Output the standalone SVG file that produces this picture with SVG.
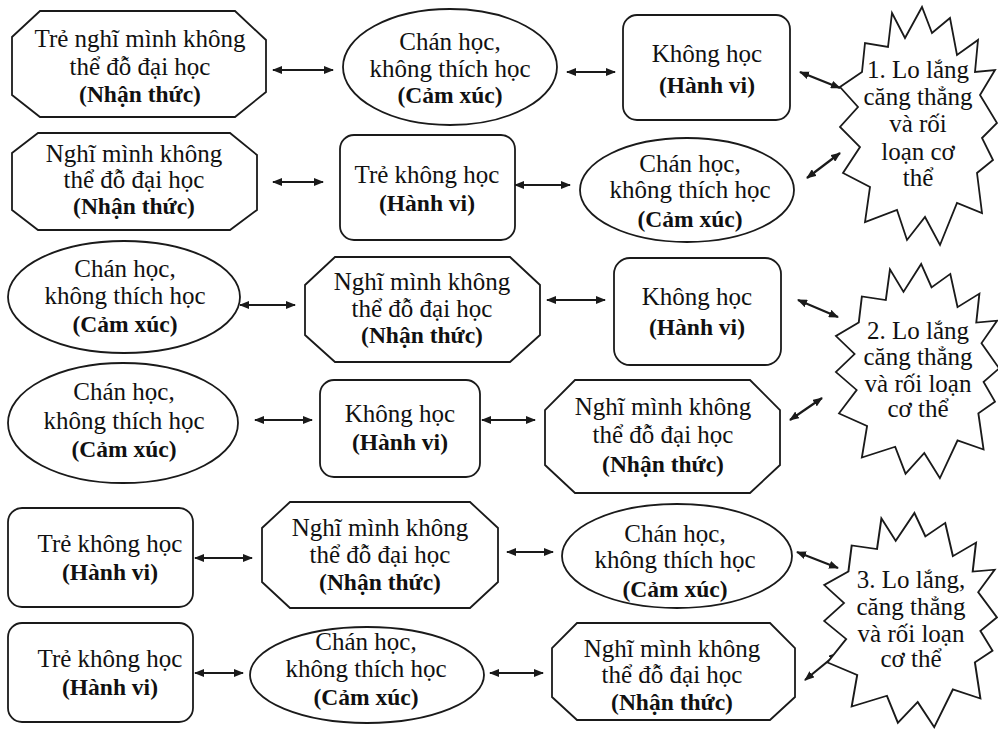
<svg xmlns="http://www.w3.org/2000/svg" width="998" height="738" viewBox="0 0 998 738">
<style>
.shape{fill:#ffffff;stroke:#1a1a1a;stroke-width:1.8}
.star{fill:#ffffff;stroke:#1a1a1a;stroke-width:1.8}
text{font-family:"Liberation Serif","DejaVu Serif",serif;font-size:25px;fill:#111;text-anchor:middle}
.b{font-weight:bold;font-size:23.5px}
.conn line{stroke:#1a1a1a;stroke-width:2.2;marker-start:url(#ah);marker-end:url(#ah)}
</style>
<defs>
<marker id="ah" markerUnits="userSpaceOnUse" markerWidth="10" markerHeight="8" refX="9" refY="4" orient="auto-start-reverse">
<path d="M0,0 L10,4 L0,8 z" fill="#1a1a1a"/>
</marker>
<path id="starShape" d="M-26,-114 L-13,-89 L4,-120 L14,-94 L32,-109 L39,-72 L60,-87 L57,-55 L77,-57 L62,-32 L79,-4 L64,11 L75,33 L59,46 L64,86 L39,76 L22,118 L7,90 L-11,113 L-21,83 L-53,95 L-48,60 L-75,46 L-58,20 L-78,0 L-60,-20 L-78,-40 L-56,-55 L-53,-84 L-30,-80 Z"/>
</defs>
<rect x="0" y="0" width="998" height="738" fill="#ffffff"/>

<g id="connectors" class="conn">
<line x1="273" y1="70" x2="333" y2="70"/>
<line x1="567" y1="72" x2="615" y2="72"/>
<line x1="800" y1="72" x2="840" y2="88"/>
<line x1="273" y1="182" x2="323" y2="182"/>
<line x1="515" y1="185" x2="570" y2="185"/>
<line x1="807" y1="178" x2="840" y2="153"/>
<line x1="240" y1="305" x2="295" y2="305"/>
<line x1="547" y1="300" x2="605" y2="300"/>
<line x1="798" y1="300" x2="838" y2="317"/>
<line x1="255" y1="420" x2="312" y2="420"/>
<line x1="482" y1="420" x2="535" y2="420"/>
<line x1="790" y1="420" x2="822" y2="398"/>
<line x1="195" y1="558" x2="252" y2="558"/>
<line x1="507" y1="552" x2="553" y2="552"/>
<line x1="797" y1="552" x2="838" y2="568"/>
<line x1="195" y1="673" x2="243" y2="673"/>
<line x1="490" y1="673" x2="543" y2="673"/>
<line x1="805" y1="680" x2="838" y2="653"/>
</g>

<g id="r1-cognition">
<polygon class="shape" points="40,11 235,11 266,40 266,92 235,117 40,117 12,95 12,37"/>
<text x="140" y="47">Trẻ nghĩ mình không</text>
<text x="140" y="75">thể đỗ đại học</text>
<text class="b" x="140" y="102">(Nhận thức)</text>
</g>
<g id="r1-emotion">
<ellipse class="shape" cx="450" cy="67" rx="107" ry="58"/>
<text x="450" y="50">Chán học,</text>
<text x="450" y="77">không thích học</text>
<text class="b" x="450" y="103">(Cảm xúc)</text>
</g>
<g id="r1-behavior">
<rect class="shape" x="623" y="15" width="167" height="105" rx="14"/>
<text x="707" y="62">Không học</text>
<text class="b" x="707" y="93">(Hành vi)</text>
</g>

<g id="r2-cognition">
<polygon class="shape" points="38,133 230,133 257,155 257,210 230,230 38,230 12,210 12,153"/>
<text x="134" y="162">Nghĩ mình không</text>
<text x="134" y="188">thể đỗ đại học</text>
<text class="b" x="134" y="214">(Nhận thức)</text>
</g>
<g id="r2-behavior">
<rect class="shape" x="340" y="135" width="175" height="105" rx="14"/>
<text x="427" y="183">Trẻ không học</text>
<text class="b" x="427" y="211">(Hành vi)</text>
</g>
<g id="r2-emotion">
<ellipse class="shape" cx="687" cy="190" rx="107" ry="52"/>
<text x="690" y="172">Chán học,</text>
<text x="690" y="198">không thích học</text>
<text class="b" x="690" y="227">(Cảm xúc)</text>
</g>

<g id="star1">
<use href="#starShape" class="star" transform="translate(918,127)"/>
<text x="918" y="78">1. Lo lắng</text>
<text x="918" y="105">căng thẳng</text>
<text x="918" y="132">và rối</text>
<text x="918" y="160">loạn cơ</text>
<text x="918" y="186">thể</text>
</g>

<g id="r3-emotion">
<ellipse class="shape" cx="124" cy="297" rx="116" ry="56"/>
<text x="125" y="277">Chán học,</text>
<text x="125" y="304">không thích học</text>
<text class="b" x="125" y="332">(Cảm xúc)</text>
</g>
<g id="r3-cognition">
<polygon class="shape" points="335,257 510,257 540,285 540,335 510,362 335,362 305,335 305,285"/>
<text x="422" y="290">Nghĩ mình không</text>
<text x="422" y="317">thể đỗ đại học</text>
<text class="b" x="422" y="343">(Nhận thức)</text>
</g>
<g id="r3-behavior">
<rect class="shape" x="614" y="258" width="167" height="107" rx="16"/>
<text x="697" y="305">Không học</text>
<text class="b" x="697" y="335">(Hành vi)</text>
</g>

<g id="r4-emotion">
<ellipse class="shape" cx="123" cy="423" rx="115" ry="60"/>
<text x="124" y="400">Chán học,</text>
<text x="124" y="429">không thích học</text>
<text class="b" x="124" y="457">(Cảm xúc)</text>
</g>
<g id="r4-behavior">
<rect class="shape" x="320" y="380" width="160" height="97" rx="14"/>
<text x="400" y="422">Không học</text>
<text class="b" x="400" y="450">(Hành vi)</text>
</g>
<g id="r4-cognition">
<polygon class="shape" points="575,380 750,380 780,410 780,465 750,493 575,493 545,465 545,410"/>
<text x="663" y="415">Nghĩ mình không</text>
<text x="663" y="443">thể đỗ đại học</text>
<text class="b" x="663" y="472">(Nhận thức)</text>
</g>

<g id="star2">
<use href="#starShape" class="star" transform="translate(917,372) scale(1.04,0.9)"/>
<text x="918" y="339">2. Lo lắng</text>
<text x="918" y="365">căng thẳng</text>
<text x="918" y="392">và rối loạn</text>
<text x="918" y="417">cơ thể</text>
</g>

<g id="r5-behavior">
<rect class="shape" x="8" y="508" width="185" height="99" rx="14"/>
<text x="110" y="552">Trẻ không học</text>
<text class="b" x="110" y="580">(Hành vi)</text>
</g>
<g id="r5-cognition">
<polygon class="shape" points="290,502 470,502 498,528 498,582 470,608 290,608 262,582 262,528"/>
<text x="380" y="536">Nghĩ mình không</text>
<text x="380" y="563">thể đỗ đại học</text>
<text class="b" x="380" y="590">(Nhận thức)</text>
</g>
<g id="r5-emotion">
<ellipse class="shape" cx="677" cy="556" rx="115" ry="52"/>
<text x="675" y="542">Chán học,</text>
<text x="675" y="568">không thích học</text>
<text class="b" x="675" y="597">(Cảm xúc)</text>
</g>

<g id="r6-behavior">
<rect class="shape" x="8" y="623" width="185" height="99" rx="14"/>
<text x="110" y="667">Trẻ không học</text>
<text class="b" x="110" y="695">(Hành vi)</text>
</g>
<g id="r6-emotion">
<ellipse class="shape" cx="367" cy="675" rx="117" ry="48"/>
<text x="366" y="650">Chán học,</text>
<text x="366" y="677">không thích học</text>
<text class="b" x="366" y="705">(Cảm xúc)</text>
</g>
<g id="r6-cognition">
<polygon class="shape" points="577,623 770,623 795,648 795,697 770,720 577,720 552,697 552,648"/>
<text x="672" y="657">Nghĩ mình không</text>
<text x="672" y="683">thể đỗ đại học</text>
<text class="b" x="672" y="710">(Nhận thức)</text>
</g>

<g id="star3">
<use href="#starShape" class="star" transform="translate(910,621) scale(1.1,0.9)"/>
<text x="911" y="588">3. Lo lắng,</text>
<text x="911" y="615">căng thẳng</text>
<text x="911" y="642">và rối loạn</text>
<text x="911" y="667">cơ thể</text>
</g>
</svg>
